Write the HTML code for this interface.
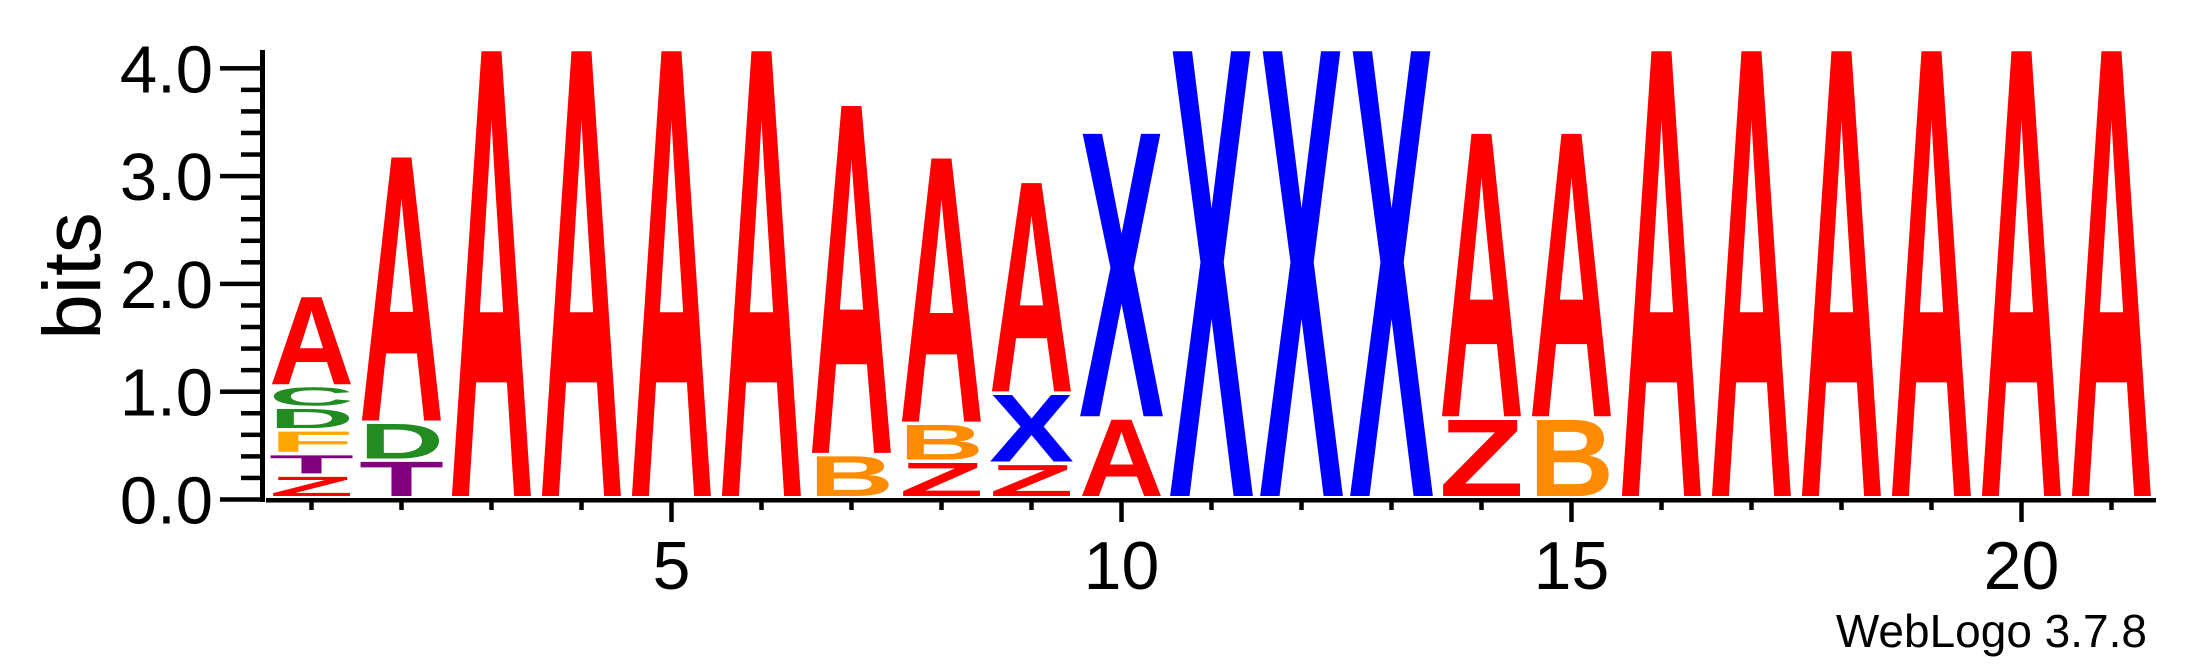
<!DOCTYPE html>
<html>
<head>
<meta charset="utf-8">
<style>
html,body{margin:0;padding:0;background:#fff;}
svg{display:block;}
</style>
</head>
<body>
<svg id="logo" xmlns="http://www.w3.org/2000/svg" width="2200" height="667" viewBox="0 0 2200 667">
  <rect x="0" y="0" width="2200" height="667" fill="#fff"/>
  <g id="marks"></g>
  <g id="axes"></g>
  <text transform="translate(100,276) rotate(-90)" text-anchor="middle" font-family="Liberation Sans, sans-serif" font-size="82" fill="#000">bits</text>
  <text x="2147" y="647" text-anchor="end" font-family="Liberation Sans, sans-serif" font-size="46" fill="#000">WebLogo 3.7.8</text>
</svg>
<script>
// ---- data ----
const positions = [1,2,3,4,5,6,7,8,9,10,11,12,13,14,15,16,17,18,19,20,21];
const stackLetters = [
  ["Z","T","F","D","C","A"],
  ["T","D","A"],
  ["A"],["A"],["A"],["A"],
  ["B","A"],
  ["Z","B","A"],
  ["Z","X","A"],
  ["A","X"],
  ["X"],["X"],["X"],
  ["Z","A"],
  ["B","A"],
  ["A"],["A"],["A"],["A"],["A"],["A"]
];
const stackHeights = [
  [0.21,0.20,0.22,0.21,0.20,0.84],
  [0.35,0.35,2.48],
  [4.17],[4.17],[4.17],[4.17],
  [0.40,3.26],
  [0.34,0.35,2.48],
  [0.32,0.65,1.97],
  [0.74,2.66],
  [4.17],[4.17],[4.17],
  [0.74,2.66],
  [0.74,2.66],
  [4.17],[4.17],[4.17],[4.17],[4.17],[4.17]
];
const yTickValues = [0,1,2,3,4];
const yTickLabels = ["0.0","1.0","2.0","3.0","4.0"];
const xTickLabels = ["5","10","15","20"];
const xTickLabelPositions = [5,10,15,20];
const yMax = 4.17;

// ---- scales ----
const NS = "http://www.w3.org/2000/svg";
const X0 = 311.5, XSTEP = 90, COLW = 81;
const Y0 = 499.5, YPX = 107.8;
function xScale(p){ return X0 + (p-1)*XSTEP; }
function yScale(b){ return Y0 - b*YPX; }
const colors = {A:"#ff0000",Z:"#ff0000",X:"#0000ff",B:"#ff8c00",F:"#ffa500",C:"#228b22",D:"#228b22",T:"#800080"};
const CAP = 69; // ink cap height for font-size 100

function mk(tag, attrs){
  const el = document.createElementNS(NS, tag);
  for (const k in attrs) el.setAttribute(k, attrs[k]);
  return el;
}

// ---- letters ----
const marks = document.getElementById("marks");
positions.forEach((p, i) => {
  const cx = xScale(p);
  let cum = 0;
  stackLetters[i].forEach((L, j) => {
    const h = stackHeights[i][j];
    const top = yScale(cum + h);
    const bottom = yScale(cum) - 3.5;
    cum += h;
    const hp = bottom - top;
    if (hp <= 0) return;
    const t = mk("text", {
      x: cx - COLW/2 - 2,
      y: 0,
      "font-family": "Liberation Sans, sans-serif",
      "font-weight": "bold",
      "font-size": 100,
      fill: colors[L] || "#000",
      textLength: COLW + 4,
      lengthAdjust: "spacingAndGlyphs",
      transform: "translate(0," + bottom + ") scale(1," + (hp/CAP) + ")"
    });
    
    
    t.textContent = L;
    marks.appendChild(t);
  });
});

// ---- axes ----
const axes = document.getElementById("axes");
const yAxis = mk("rect", {x: 260, y: yScale(yMax), width: 5, height: Y0 + 2.5 - yScale(yMax), fill: "#000"});


axes.appendChild(yAxis);

for (let k = 0; k <= 20; k++) {
  const v = k * 0.2;
  const major = (k % 5 === 0);
  const y = yScale(v);
  const r = mk("rect", {x: major ? 220 : 241, y: y - 2.25, width: major ? 42 : 21, height: 4.5, fill: "#000"});
  
  
  axes.appendChild(r);
}
yTickValues.forEach((v, i) => {
  const t = mk("text", {x: 213, y: yScale(v) + 24, "text-anchor": "end", "font-family": "Liberation Sans, sans-serif", "font-size": 67, fill: "#000"});
  
  
  t.textContent = yTickLabels[i];
  axes.appendChild(t);
});

const xAxis = mk("rect", {x: 266, y: 498, width: 2156 - 266, height: 4.5, fill: "#000"});


axes.appendChild(xAxis);

positions.forEach(p => {
  const major = (p % 5 === 0);
  const r = mk("rect", {x: xScale(p) - 2.25, y: 500, width: 4.5, height: major ? 22 : 10, fill: "#000"});
  
  
  axes.appendChild(r);
});
xTickLabelPositions.forEach((p, i) => {
  const t = mk("text", {x: xScale(p), y: 589, "text-anchor": "middle", "font-family": "Liberation Sans, sans-serif", "font-size": 68, fill: "#000"});
  
  
  t.textContent = xTickLabels[i];
  axes.appendChild(t);
});
</script>
</body>
</html>
